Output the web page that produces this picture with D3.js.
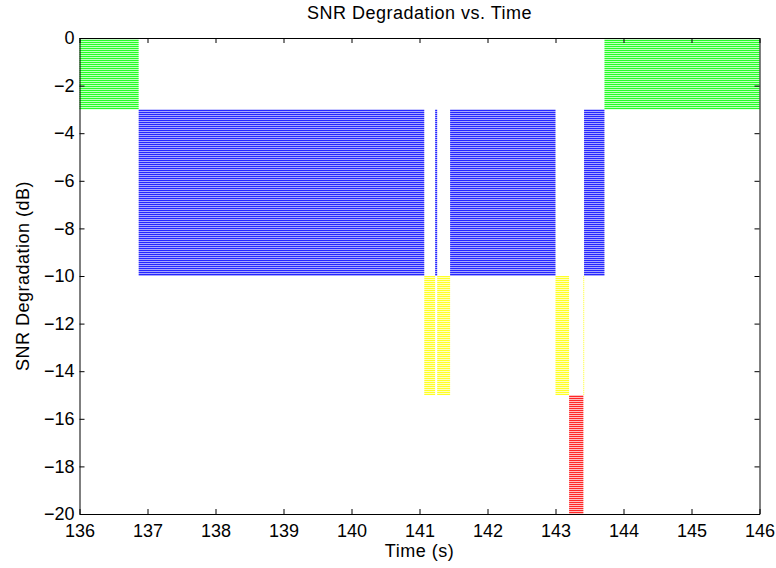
<!DOCTYPE html>
<html>
<head>
<meta charset="utf-8">
<script src="https://cdn.jsdelivr.net/npm/d3@7"></script>
<style>
  body { margin: 0; background: #fff; }
  text { font-family: "Liberation Sans", Arial, sans-serif; fill: #000; }
</style>
</head>
<body>
<div class="chart"></div>
<script>
// segment boundaries in time (s) and the degradation band each segment sits in
var segTimes = [136, 136.87, 141.07, 141.23, 141.26, 141.45, 143.0, 143.2, 143.41, 143.42, 143.72, 146];
var segBand = [0, 1, 2, 1, 2, 1, 2, 3, 2, 1, 0];

// bands: top / bottom SNR degradation (dB) and colour
var bandTop = [0, -3, -10, -15];
var bandBottom = [-3, -10, -15, -20];
var bandColor = ["#00ff00", "#0000ff", "#ffff00", "#ff0000"];

var xTicks = [136, 137, 138, 139, 140, 141, 142, 143, 144, 145, 146];
var yTicks = [0, -2, -4, -6, -8, -10, -12, -14, -16, -18, -20];

var svgWidth = 776;
var svgHeight = 568;

var margin = {
    top: 38,
    right: 16.5,
    bottom: 54,
    left: 79.5
};

var width = svgWidth - margin.left - margin.right;
var height = svgHeight - margin.top - margin.bottom;

var svg = d3.select(".chart")
    .append("svg")
    .attr("width", svgWidth)
    .attr("height", svgHeight);

// striped fills, one per band colour
var defs = svg.append("defs");
bandColor.forEach(function(c, i) {
    var p = defs.append("pattern")
      .attr("id", "stripe" + i)
      .attr("patternUnits", "userSpaceOnUse")
      .attr("width", 4)
      .attr("height", 2);
    p.append("rect")
      .attr("width", 4).attr("height", 1)
      .attr("fill", c)
      .attr("opacity", 0.85);
    p.append("rect")
      .attr("y", 1)
      .attr("width", 4).attr("height", 1)
      .attr("fill", c)
      .attr("opacity", i == 1 ? 0.35 : 0.25);
});

var chartGroup = svg.append("g")
    .attr("transform", `translate(${margin.left}, ${margin.top})`);

var xScale = d3.scaleLinear()
    .domain([136, 146])
    .range([0, width]);

var yScale = d3.scaleLinear()
    .domain([-20, 0])
    .range([height, 0]);

// segments
var segments = segBand.map(function(b, i) {
    return { x0: segTimes[i], x1: segTimes[i + 1], band: b };
});

chartGroup.selectAll(".seg")
    .data(segments)
    .enter()
    .append("rect")
    .attr("class", "seg")
    .attr("x", d => xScale(d.x0))
    .attr("width", d => Math.max(0.8, xScale(d.x1) - xScale(d.x0)))
    .attr("y", d => yScale(bandTop[d.band]))
    .attr("height", d => yScale(bandBottom[d.band]) - yScale(bandTop[d.band]))
    .attr("fill", d => `url(#stripe${d.band})`);

// axes (ticks inside, box all round)
var tickLen = 5;
var bottomAxis = d3.axisBottom(xScale).tickValues(xTicks).tickSizeInner(-tickLen).tickSizeOuter(0).tickPadding(10);
var topAxis = d3.axisTop(xScale).tickValues(xTicks).tickSizeInner(-tickLen).tickSizeOuter(0).tickFormat("");
var leftAxis = d3.axisLeft(yScale).tickValues(yTicks).tickSizeInner(-tickLen).tickSizeOuter(0).tickPadding(5)
    .tickFormat(d => d < 0 ? "\u2212" + Math.abs(d) : d);
var rightAxis = d3.axisRight(yScale).tickValues(yTicks).tickSizeInner(-tickLen).tickSizeOuter(0).tickFormat("");

chartGroup.append("g").attr("transform", `translate(0, ${height})`).call(bottomAxis);
chartGroup.append("g").call(topAxis);
chartGroup.append("g").call(leftAxis);
chartGroup.append("g").attr("transform", `translate(${width}, 0)`).call(rightAxis);

chartGroup.selectAll(".tick line").attr("stroke", "#000");
chartGroup.selectAll(".domain").attr("stroke", "#000");
chartGroup.selectAll(".tick text")
    .attr("font-size", 18)
    .attr("font-family", "Liberation Sans, Arial, sans-serif");

// labels
chartGroup.append("text")
    .attr("x", width / 2)
    .attr("y", -19)
    .attr("text-anchor", "middle")
    .attr("font-size", 18)
    .attr("letter-spacing", 0.5)
    .text("SNR Degradation vs. Time");

chartGroup.append("text")
    .attr("x", width / 2)
    .attr("y", height + 43)
    .attr("text-anchor", "middle")
    .attr("font-size", 18)
    .attr("letter-spacing", 0.5)
    .text("Time (s)");

chartGroup.append("text")
    .attr("transform", "rotate(-90)")
    .attr("x", 0 - height / 2)
    .attr("y", 0 - margin.left + 29)
    .attr("text-anchor", "middle")
    .attr("font-size", 18)
    .attr("letter-spacing", 0.5)
    .text("SNR Degradation (dB)");
</script>
</body>
</html>
